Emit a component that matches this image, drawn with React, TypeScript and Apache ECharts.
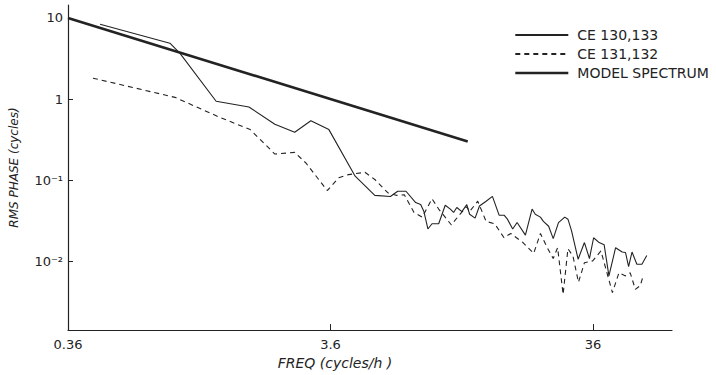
import React, { useEffect, useRef } from 'react';
import * as echarts from 'echarts';

// Axis ticks
const xTickValues = [0.36, 3.6, 36];
const xTickLabels = ['0.36', '3.6', '36'];
const yTickValues = [0.01, 0.1, 1, 10];
const yTickLabels = ['10⁻²', '10⁻¹', '1', '10'];
const xRange = [0.36, 72];
const yRange = [0.001416, 14.45];

// CE 130,133 (solid)
const ce130Freq = [0.477, 0.88, 0.96, 1.32, 1.76, 2.21, 2.63, 3.03, 3.55, 4.47, 5.31, 6.09, 6.49, 6.98, 7.6, 7.94, 8.17, 8.46, 8.77, 9.3, 9.85, 10.3, 10.6, 10.9, 11.4, 11.9, 12.2, 12.8, 13.3, 14.1, 14.9, 15.8, 16.5, 17.0, 17.8, 18.5, 19.9, 21.1, 21.7, 22.7, 23.3, 24.4, 25.4, 26.6, 28.1, 28.9, 29.8, 31.6, 33.4, 34.9, 36.2, 38.0, 39.7, 41.4, 43.9, 46.5, 47.9, 49.2, 50.7, 52.9, 55.3, 57.7];
const ce130Rms = [8.37, 4.89, 3.68, 0.94, 0.8, 0.49, 0.39, 0.54, 0.42, 0.112, 0.065, 0.063, 0.073, 0.073, 0.053, 0.05, 0.041, 0.025, 0.029, 0.029, 0.049, 0.044, 0.04, 0.046, 0.041, 0.05, 0.038, 0.034, 0.048, 0.055, 0.063, 0.037, 0.037, 0.033, 0.025, 0.03, 0.021, 0.044, 0.038, 0.035, 0.031, 0.027, 0.019, 0.03, 0.035, 0.033, 0.024, 0.0106, 0.017, 0.0108, 0.0195, 0.017, 0.016, 0.0066, 0.0147, 0.013, 0.0128, 0.0086, 0.013, 0.0092, 0.0092, 0.0118];

// CE 131,132 (dashed)
const ce131Freq = [0.448, 0.92, 1.34, 1.78, 2.21, 2.63, 2.9, 3.5, 3.87, 4.22, 4.87, 5.31, 5.95, 6.4, 6.88, 7.49, 8.05, 8.77, 9.3, 10.4, 11.05, 11.9, 12.2, 13.1, 14.1, 15.2, 16.5, 17.5, 19.4, 21.4, 22.7, 24.0, 25.4, 26.4, 27.7, 28.9, 30.2, 31.7, 33.4, 35.9, 38.6, 42.7, 45.2, 47.9, 49.9, 52.2, 54.5, 56.0];
const ce131Rms = [1.81, 1.05, 0.61, 0.42, 0.21, 0.22, 0.163, 0.0745, 0.107, 0.117, 0.125, 0.102, 0.07, 0.065, 0.066, 0.04, 0.035, 0.059, 0.044, 0.028, 0.036, 0.047, 0.041, 0.055, 0.031, 0.029, 0.0195, 0.022, 0.0172, 0.0125, 0.022, 0.0151, 0.0108, 0.0147, 0.0039, 0.0143, 0.0116, 0.0055, 0.0096, 0.0101, 0.0134, 0.0041, 0.0072, 0.0066, 0.0072, 0.0045, 0.005, 0.0067];

// Model spectrum
const modelFreq = [0.36, 12];
const modelRms = [10, 0.3];

const lg = (v: number) => Math.log10(v);
const pairs = (xs: number[], ys: number[]) => xs.map((x, i) => [lg(x), lg(ys[i])]);
const labelFor = (vals: number[], labels: string[]) => (v: number) => {
  const i = vals.findIndex((t) => Math.abs(lg(t) - v) < 1e-6);
  return i >= 0 ? labels[i] : '';
};

const INK = '#232323';
const FONT = 'DejaVu Sans';

export default function App() {
  const ref = useRef<HTMLDivElement>(null);
  useEffect(() => {
    if (!ref.current) return;
    const chart = echarts.init(ref.current, undefined, { renderer: 'svg' });
    chart.setOption({
      animation: false,
      backgroundColor: '#ffffff',
      grid: { left: 58, top: 5, right: 44, bottom: 44 },
      legend: {
        orient: 'vertical',
        left: 509,
        top: 23,
        itemWidth: 53,
        itemHeight: 12,
        itemGap: 5,
        itemStyle: { opacity: 0 },
        data: [
          { name: 'CE 130,133' },
          { name: 'CE 131,132' },
          { name: 'MODEL SPECTRUM', lineStyle: { width: 2.6 } },
        ],
        textStyle: { color: INK, fontFamily: FONT, fontSize: 14, padding: [0, 0, 0, 4] },
      },
      xAxis: {
        type: 'value',
        position: 'bottom',
        min: lg(xRange[0]),
        max: lg(xRange[1]),
        name: 'FREQ (cycles/h )',
        nameLocation: 'middle',
        nameGap: 24,
        nameTextStyle: { color: INK, fontFamily: FONT, fontSize: 14, fontStyle: 'italic', padding: [0, 70, 0, 0] },
        axisLine: { onZero: false, lineStyle: { color: INK, width: 1.2 } },
        axisTick: { inside: true, length: 6, lineStyle: { color: INK }, customValues: xTickValues.map(lg) },
        axisLabel: {
          color: INK, fontFamily: FONT, fontSize: 13, margin: 8,
          customValues: xTickValues.map(lg),
          formatter: labelFor(xTickValues, xTickLabels),
        },
        splitLine: { show: false },
      },
      yAxis: {
        type: 'value',
        position: 'left',
        min: lg(yRange[0]),
        max: lg(yRange[1]),
        name: 'RMS PHASE (cycles)',
        nameLocation: 'middle',
        nameRotate: 90,
        nameGap: 38,
        nameTextStyle: { color: INK, fontFamily: FONT, fontSize: 12, fontStyle: 'italic', padding: [0, 0, 10, 0] },
        axisLine: { show: true, onZero: false, lineStyle: { color: INK, width: 1.2 } },
        axisTick: { inside: true, length: 5, lineStyle: { color: INK }, customValues: yTickValues.map(lg) },
        axisLabel: {
          color: INK, fontFamily: FONT, fontSize: 13, margin: 5,
          customValues: yTickValues.map(lg),
          formatter: labelFor(yTickValues, yTickLabels),
        },
        splitLine: { show: false },
      },
      series: [
        {
          name: 'CE 130,133',
          type: 'line',
          data: pairs(ce130Freq, ce130Rms),
          symbol: 'none',
          lineStyle: { color: INK, width: 1.1 },
          itemStyle: { color: INK },
        },
        {
          name: 'CE 131,132',
          type: 'line',
          data: pairs(ce131Freq, ce131Rms),
          symbol: 'none',
          lineStyle: { color: INK, width: 1.1, type: [5, 4] },
          itemStyle: { color: INK },
        },
        {
          name: 'MODEL SPECTRUM',
          type: 'line',
          data: pairs(modelFreq, modelRms),
          symbol: 'none',
          lineStyle: { color: INK, width: 2.6 },
          itemStyle: { color: INK },
        },
      ],
    });
    return () => chart.dispose();
  }, []);
  return (
    <div
      ref={ref}
      style={{ position: 'fixed', left: 0, top: 0, width: 716, height: 375, background: '#fff' }}
    />
  );
}
